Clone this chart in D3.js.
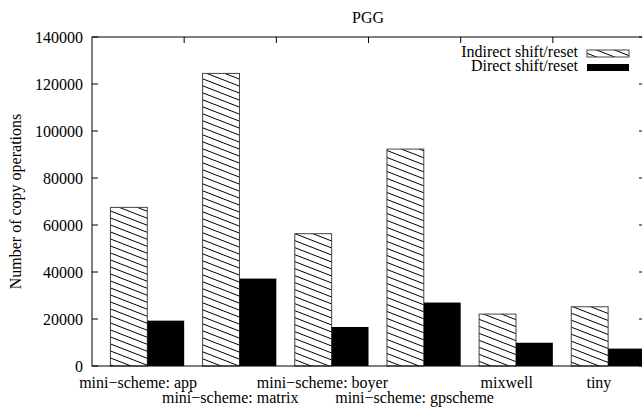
<!DOCTYPE html>
<html>
<head>
<meta charset="utf-8">
<script src="https://cdn.jsdelivr.net/npm/d3@7"></script>
<style>
  body { margin: 0; background: #fff; }
  text { font-family: "Liberation Serif", "DejaVu Serif", serif; font-size: 16px; fill: #000; }
</style>
</head>
<body>
<div id="chart"></div>
<script>
// benchmarks along the x axis ("\n" pushes a label to the second row, like gnuplot)
var categories = ["mini-scheme: app", "\nmini-scheme: matrix", "mini-scheme: boyer",
                  "\nmini-scheme: gpscheme", "mixwell", "tiny"];
// copy operations per benchmark
var indirect = [67500, 124500, 56300, 92300, 22100, 25200];
var direct = [19300, 37200, 16600, 27000, 9900, 7400];
var seriesNames = ["Indirect shift/reset", "Direct shift/reset"];
var yTicks = [0, 20000, 40000, 60000, 80000, 100000, 120000, 140000];

var width = 642, height = 407;
var margin = {left: 92, top: 37, right: -3, bottom: 41};

var svg = d3.select("#chart").append("svg")
    .attr("width", width)
    .attr("height", height);

// hatch for the indirect bars
var defs = svg.append("defs");
defs.append("pattern")
    .attr("id", "hatch")
    .attr("patternUnits", "userSpaceOnUse")
    .attr("width", 18)
    .attr("height", 7)
    .append("path")
    .attr("d", "M0,0 L18,7 M-18,0 L0,7 M0,-7 L18,0 M18,0 L36,7 M0,7 L18,14")
    .attr("stroke", "#000")
    .attr("stroke-width", 1);

var x = d3.scaleBand()
    .domain(categories)
    .range([margin.left, width - margin.right])
    .padding(0);

var y = d3.scaleLinear()
    .domain([0, 140000])
    .range([height - margin.bottom, margin.top]);

var bw = x.bandwidth();
var x0 = margin.left, x1 = width - margin.right;
var y0 = height - margin.bottom, y1 = margin.top;

// bars
var g = svg.append("g");
g.selectAll("rect.ind")
    .data(indirect)
    .enter()
    .append("rect")
    .attr("class", "ind")
    .attr("x", function(d, i){ return x(categories[i]) + bw * 0.2; })
    .attr("width", bw * 0.4)
    .attr("y", function(d){ return y(d); })
    .attr("height", function(d){ return y(0) - y(d); })
    .attr("fill", "url(#hatch)")
    .attr("stroke", "#444")
    .attr("stroke-width", 1);

g.selectAll("rect.dir")
    .data(direct)
    .enter()
    .append("rect")
    .attr("class", "dir")
    .attr("x", function(d, i){ return x(categories[i]) + bw * 0.6; })
    .attr("width", bw * 0.4)
    .attr("y", function(d){ return y(d); })
    .attr("height", function(d){ return y(0) - y(d); })
    .attr("fill", "#000");

// border frame
svg.append("rect")
    .attr("x", x0).attr("y", y1)
    .attr("width", x1 - x0).attr("height", y0 - y1)
    .attr("fill", "none")
    .attr("stroke", "#000")
    .attr("stroke-width", 1);

// y axis, ticks inward, mirrored on the right
var yAxis = d3.axisLeft(y).tickValues(yTicks).tickSize(0).tickPadding(9)
    .tickFormat(d3.format("d"));
var ya = svg.append("g").attr("transform", "translate(" + x0 + ",0)").call(yAxis);
ya.select(".domain").remove();
ya.selectAll("text").style("font-size", null).style("font-family", null);
ya.attr("font-size", null).attr("font-family", null);

svg.append("g").selectAll("line.yl")
    .data(yTicks)
    .enter()
    .append("line")
    .attr("x1", x0).attr("x2", x0 + 6)
    .attr("y1", function(d){ return y(d); })
    .attr("y2", function(d){ return y(d); })
    .attr("stroke", "#000");
svg.append("g").selectAll("line.yr")
    .data(yTicks)
    .enter()
    .append("line")
    .attr("x1", x1).attr("x2", x1 - 6)
    .attr("y1", function(d){ return y(d); })
    .attr("y2", function(d){ return y(d); })
    .attr("stroke", "#000");

// x ticks between groups on the top border
var bounds = categories.slice(1);
svg.append("g").selectAll("line.xt")
    .data(bounds)
    .enter()
    .append("line")
    .attr("x1", function(d){ return x(d); })
    .attr("x2", function(d){ return x(d); })
    .attr("y1", y1).attr("y2", y1 + 6)
    .attr("stroke", "#000");

// x labels, second row when the label starts with a newline
svg.append("g").selectAll("text.xl")
    .data(categories)
    .enter()
    .append("text")
    .attr("x", function(d){ return x(d) + bw / 2; })
    .attr("y", function(d){ return d.charAt(0) === "\n" ? 403 : 388; })
    .attr("text-anchor", "middle")
    .text(function(d){ return d.trim().replace("-", "\u2212"); });

// title
svg.append("text")
    .attr("x", 368).attr("y", 23)
    .attr("text-anchor", "middle")
    .text("PGG");

// y label
svg.append("text")
    .attr("transform", "translate(21," + ((y0 + y1) / 2) + ") rotate(-90)")
    .attr("text-anchor", "middle")
    .text("Number of copy operations");

// legend
var leg = svg.append("g");
seriesNames.forEach(function(name, i){
    var ly = 57 + i * 14;
    leg.append("text")
        .attr("x", 578).attr("y", ly)
        .attr("text-anchor", "end")
        .text(name);
    leg.append("rect")
        .attr("x", 587).attr("y", ly - 7)
        .attr("width", 42).attr("height", 7)
        .attr("fill", i === 0 ? "url(#hatch)" : "#000")
        .attr("stroke", i === 0 ? "#444" : "none");
});
</script>
</body>
</html>
